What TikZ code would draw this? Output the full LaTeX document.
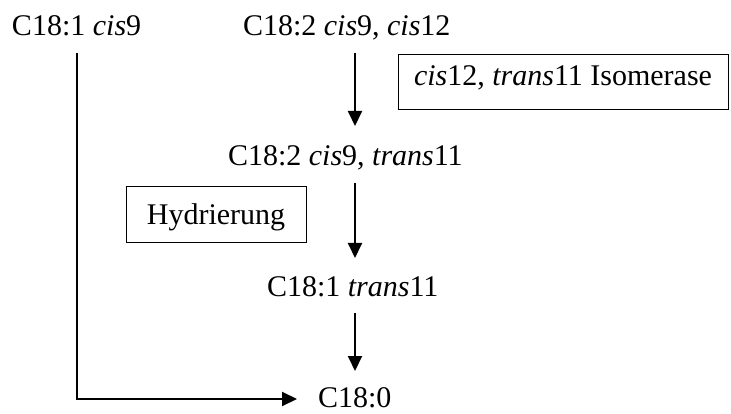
\documentclass[tikz,border=0pt]{standalone}
\usepackage{fontspec}
\setmainfont{Liberation Serif}
\usetikzlibrary{arrows.meta}
\begin{document}
\begin{tikzpicture}[x=1pt,y=1pt,
  lbl/.style={inner sep=0pt,outer sep=0pt,anchor=base west,text height=20pt,text depth=0pt,font=\fontsize{30}{36}\selectfont},
  boxed/.style={draw,line width=1pt,inner sep=0pt,font=\fontsize{30}{36}\selectfont},
  arr/.style={line width=2pt,-{Triangle[width=14pt,length=15pt]}}]
\fill[white] (0,0) rectangle (731,-414);
\useasboundingbox (0,0) rectangle (731,-414);
\node[lbl] (a) at (12,-36) {C18:1 \textit{cis}9};
\node[lbl] (b) at (243,-36) {C18:2 \textit{cis}9, \textit{cis}12};
\node[lbl] (c) at (228,-166) {C18:2 \textit{cis}9, \textit{trans}11};
\node[lbl] (d) at (267,-296) {C18:1 \textit{trans}11};
\node[lbl] (e) at (318,-407) {C18:0};
\node[boxed,minimum width=330pt,minimum height=55pt,text height=20pt,text depth=13pt] (iso) at (563,-82.5) {\textit{cis}12, \textit{trans}11 Isomerase};
\node[boxed,minimum width=180pt,minimum height=56pt,text height=20pt,text depth=0pt] (hyd) at (216,-215) {Hydrierung};
\coordinate (ax) at (355,0);
\coordinate (lx) at (77,0);
\draw[arr,shorten <=17pt,shorten >=20pt] (b.south -| ax) -- (c.north -| ax);
\draw[arr,shorten <=17pt,shorten >=18pt] (c.south -| ax) -- (d.north -| ax);
\draw[arr,shorten <=17pt,shorten >=16pt] (d.south -| ax) -- (e.north -| ax);
\draw[arr,shorten <=17pt,shorten >=21pt] (a.south -| lx) -- ([yshift=-2pt]e.west -| lx) -- ([yshift=-2pt]e.west);
\end{tikzpicture}
\end{document}
